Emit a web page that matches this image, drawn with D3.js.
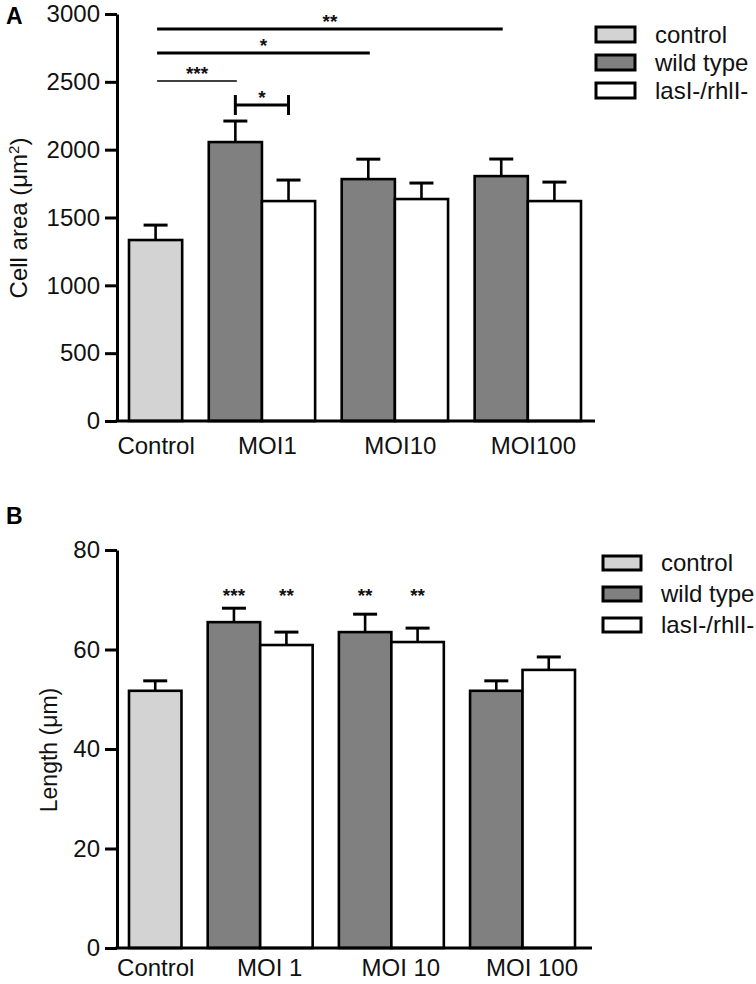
<!DOCTYPE html>
<html><head><meta charset="utf-8">
<script src="https://cdn.jsdelivr.net/npm/d3@7"></script>
<style>body{margin:0;background:#fff}text{font-family:"Liberation Sans",Arial,sans-serif;fill:#111}</style>
</head><body><svg id="c" width="756" height="984"></svg>
<script>
// ---------- data ----------
const groupsA = ["Control", "MOI1", "MOI10", "MOI100"];
const groupsB = ["Control", "MOI 1", "MOI 10", "MOI 100"];
const seriesNames = ["control", "wild type", "lasI-/rhlI-"];
const seriesColors = ["#d3d3d3", "#808080", "#ffffff"];

const controlA = [1334], controlErrA = [110];
const wildA = [2056, 1783, 1805], wildErrA = [155, 147, 126];
const lasA = [1621, 1636, 1621], lasErrA = [155, 118, 140];
const ticksA = [0, 500, 1000, 1500, 2000, 2500, 3000];

const controlB = [51.7], controlErrB = [2.0];
const wildB = [65.5, 63.5, 51.7], wildErrB = [2.8, 3.6, 2.0];
const lasB = [60.9, 61.5, 55.9], lasErrB = [2.6, 2.8, 2.6];
const ticksB = [0, 20, 40, 60, 80];

// significance: bar indices (0 control, 1/2 MOI1 wt/las, 3/4 MOI10, 5/6 MOI100)
const sigA = [
  {a: 0, b: 5, y: 2889, label: "**", thick: true, bracket: false},
  {a: 0, b: 3, y: 2712, label: "*", thick: true, bracket: false},
  {a: 0, b: 1, y: 2506, label: "***", thick: false, bracket: false},
  {a: 1, b: 2, y: 2329, label: "*", thick: true, bracket: true}
];
const sigB = [
  {bar: 1, label: "***", y: 71.8},
  {bar: 2, label: "**", y: 71.8},
  {bar: 3, label: "**", y: 71.8},
  {bar: 4, label: "**", y: 71.8}
];

function buildBars(ctl, ctlE, wt, wtE, las, lasE) {
  const bars = [{g: 0, s: 0, v: ctl[0], e: ctlE[0]}];
  for (let i = 0; i < wt.length; i++) {
    bars.push({g: i + 1, s: 1, v: wt[i], e: wtE[i]});
    bars.push({g: i + 1, s: 2, v: las[i], e: lasE[i]});
  }
  bars.forEach((d, i) => { d.i = i; d.pos = i + 0.5 * d.g; });
  return bars;
}

const svg = d3.select("#c");
const FS = 24;

function panel(cfg) {
  const g = svg.append("g");
  const y = d3.scaleLinear().domain(cfg.yDomain).range([cfg.y0, cfg.y1]);
  const x = d3.scaleLinear().domain([0, 8.5]).range([cfg.x0, cfg.x1]);
  const bw = x(1) - x(0);
  const bars = cfg.bars;

  // y axis
  const ax = g.append("g").attr("transform", `translate(${cfg.axisX},0)`)
    .call(d3.axisLeft(y).tickValues(cfg.ticks).tickSize(12).tickSizeOuter(0).tickPadding(5).tickFormat(d3.format("d")));
  ax.select(".domain").attr("stroke", "#000").attr("stroke-width", 3);
  ax.selectAll(".tick line").attr("stroke", "#000").attr("stroke-width", 3);
  ax.selectAll(".tick text").attr("font-size", FS).attr("fill", "#111")
    .style("font-family", '"Liberation Sans",Arial,sans-serif');

  // bars
  g.selectAll("rect.bar").data(bars).join("rect").attr("class", "bar")
    .attr("x", d => x(d.pos)).attr("width", bw)
    .attr("y", d => y(d.v)).attr("height", d => y(0) - y(d.v))
    .attr("fill", d => seriesColors[d.s]).attr("stroke", "#000").attr("stroke-width", 2.6);

  // error bars
  const eb = g.selectAll("g.err").data(bars).join("g").attr("class", "err");
  eb.append("line").attr("x1", d => x(d.pos) + bw / 2).attr("x2", d => x(d.pos) + bw / 2)
    .attr("y1", d => y(d.v)).attr("y2", d => y(d.v + d.e)).attr("stroke", "#000").attr("stroke-width", 2.6);
  eb.append("line").attr("x1", d => x(d.pos) + bw / 2 - 12).attr("x2", d => x(d.pos) + bw / 2 + 12)
    .attr("y1", d => y(d.v + d.e)).attr("y2", d => y(d.v + d.e)).attr("stroke", "#000").attr("stroke-width", 3);

  // x axis line
  g.append("line").attr("x1", cfg.axisX - 1.5).attr("x2", cfg.xEnd).attr("y1", y(0)).attr("y2", y(0))
    .attr("stroke", "#000").attr("stroke-width", 3);

  // category labels at group centres
  const centers = cfg.groups.map((c, gi) => {
    const gb = bars.filter(b => b.g === gi);
    return (x(gb[0].pos) + x(gb[gb.length - 1].pos) + bw) / 2 + (gi > 0 ? cfg.labelDx : 0);
  });
  const xs = d3.scaleOrdinal().domain(cfg.groups).range(centers);
  const xa = g.append("g").attr("transform", `translate(0,${y(0)})`)
    .call(d3.axisBottom(xs).tickSize(0).tickPadding(cfg.xPad));
  xa.select(".domain").remove();
  xa.selectAll(".tick text").attr("font-size", FS).attr("fill", "#111")
    .style("font-family", '"Liberation Sans",Arial,sans-serif');

  // y label
  const lab = g.append("text").attr("transform", `translate(${cfg.labX},${cfg.labY}) rotate(-90)`)
    .attr("text-anchor", "middle").attr("font-size", cfg.labFS);
  cfg.yLabel(lab);

  // panel letter
  g.append("text").attr("x", 6).attr("y", cfg.letterY).attr("font-size", 23).attr("font-weight", "bold")
    .style("fill", "#000").text(cfg.letter);

  // legend
  const lg = g.append("g");
  seriesNames.forEach((s, i) => {
    const yy = cfg.legY + i * cfg.legStep;
    lg.append("rect").attr("x", cfg.legX).attr("y", yy).attr("width", cfg.legW).attr("height", cfg.legH)
      .attr("fill", seriesColors[i]).attr("stroke", "#000").attr("stroke-width", 3);
    lg.append("text").attr("x", cfg.legX + cfg.legW + 20).attr("y", yy + cfg.legH + 1)
      .attr("font-size", FS).text(s);
  });
  return {g, x, y, bw, bars};
}

// Panel A
const barsA = buildBars(controlA, controlErrA, wildA, wildErrA, lasA, lasErrA);
const pA = panel({
  bars: barsA, groups: groupsA, ticks: ticksA, yDomain: [0, 3000], y0: 421, y1: 14,
  x0: 129, x1: 581, axisX: 117, xEnd: 595, labelDx: 5, xPad: 16,
  labX: 27, labY: 218, labFS: 24, letter: "A", letterY: 24,
  legX: 596, legY: 27, legStep: 28, legW: 39, legH: 15,
  yLabel: t => { t.append("tspan").text("Cell area (μm");
                 t.append("tspan").attr("font-size", 15).attr("baseline-shift", "super").text("2");
                 t.append("tspan").text(")"); }
});
const cx = (p, i) => p.x(p.bars[i].pos) + p.bw / 2;
sigA.forEach(s => {
  const x1 = cx(pA, s.a) + (s.bracket ? 0 : 1.5), x2 = cx(pA, s.b) + (s.bracket ? 0 : 1.5);
  const yy = pA.y(s.y);
  pA.g.append("line").attr("x1", x1).attr("x2", x2).attr("y1", yy).attr("y2", yy)
    .attr("stroke", "#000").attr("stroke-width", s.thick ? 3 : 1.6);
  if (s.bracket) {
    [x1, x2].forEach(xx => pA.g.append("line").attr("x1", xx).attr("x2", xx)
      .attr("y1", yy - 10).attr("y2", yy + 10).attr("stroke", "#000").attr("stroke-width", 3));
  }
  pA.g.append("text").attr("x", (x1 + x2) / 2).attr("y", yy - 1)
    .attr("text-anchor", "middle").attr("font-size", 19).attr("font-weight", "bold").text(s.label);
});

// Panel B
const barsB = buildBars(controlB, controlErrB, wildB, wildErrB, lasB, lasErrB);
const pB = panel({
  bars: barsB, groups: groupsB, ticks: ticksB, yDomain: [0, 80], y0: 948, y1: 550,
  x0: 129, x1: 575, axisX: 117, xEnd: 592, labelDx: 9, xPad: 11,
  labX: 57, labY: 750, labFS: 23, letter: "B", letterY: 524,
  legX: 603, legY: 556, legStep: 31, legW: 38, legH: 14,
  yLabel: t => t.text("Length (μm)")
});
sigB.forEach(s => {
  pB.g.append("text").attr("x", cx(pB, s.bar)).attr("y", pB.y(s.y) + 11)
    .attr("text-anchor", "middle").attr("font-size", 19).attr("font-weight", "bold").text(s.label);
});
</script></body></html>
